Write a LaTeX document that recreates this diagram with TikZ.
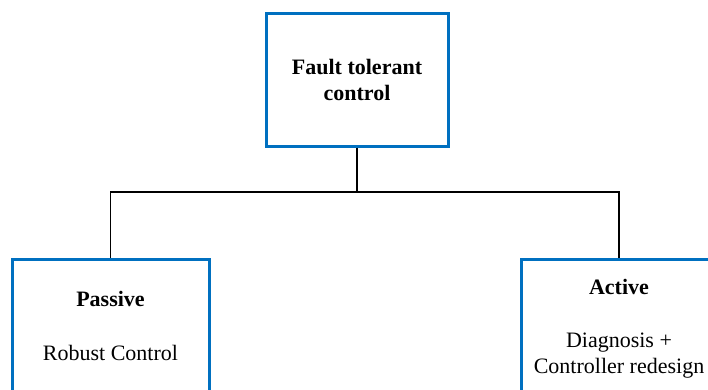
\documentclass[tikz,border=0pt]{standalone}
\usepackage{fontspec}
\setmainfont{Liberation Serif}
\definecolor{boxblue}{RGB}{0,112,192}
\tikzset{
  box/.style={draw=boxblue, line width=3pt, rectangle, minimum height=133pt,
    inner sep=0pt, align=center, font=\fontsize{22}{26}\selectfont},
  link/.style={draw=black, line width=1.3pt}
}
\begin{document}
\begin{tikzpicture}[x=1pt, y=-1pt]
  \useasboundingbox (0,0) rectangle (708,389);
  \clip (0,0) rectangle (708,389);
  % root of the classification
  \node[box, minimum width=182pt] (ftc) at (357,79.5) {\textbf{Fault tolerant}\\\textbf{control}};
  % the two branches
  \node[box, minimum width=197pt] (passive) at (110.5,325.5)
    {\textbf{Passive}\\[28pt]Robust Control};
  \node[box, minimum width=196pt] (active) at (619,325.5)
    {\rule{0pt}{21pt}\textbf{Active}\\[27pt]Diagnosis +\\Controller redesign};
  % junction below the root
  \coordinate (split) at (357,192);
  \draw[link] (ftc.south) -- (split);
  \draw[link] (split) -| (passive.north);
  \draw[link] (split) -| (active.north);
\end{tikzpicture}
\end{document}
